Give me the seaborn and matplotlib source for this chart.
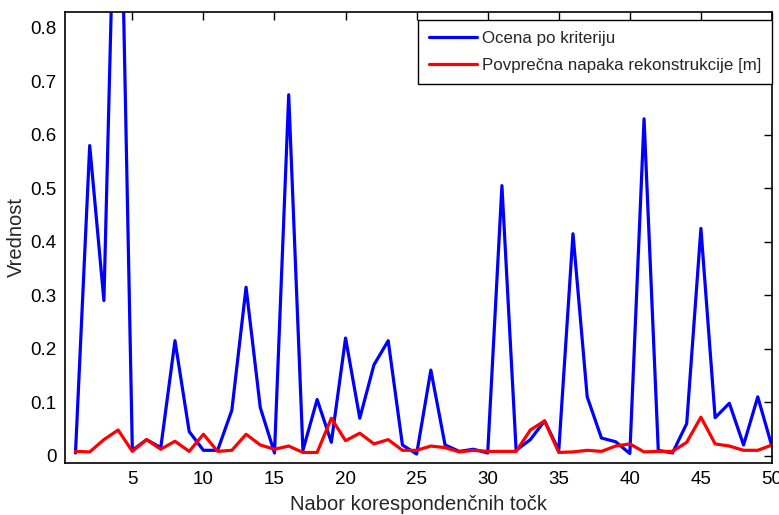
import numpy as np
import pandas as pd
import matplotlib
matplotlib.use("Agg")
import matplotlib.pyplot as plt
import seaborn as sns

x_vals = list(range(1, 51))
ocena = [0.005, 0.58, 0.29, 1.35, 0.01, 0.03, 0.015, 0.215, 0.045, 0.01,
         0.01, 0.085, 0.315, 0.09, 0.005, 0.675, 0.01, 0.105, 0.025, 0.22,
         0.07, 0.17, 0.215, 0.02, 0.003, 0.16, 0.02, 0.008, 0.012, 0.005,
         0.505, 0.01, 0.03, 0.065, 0.01, 0.415, 0.11, 0.033, 0.026, 0.004,
         0.63, 0.01, 0.005, 0.06, 0.425, 0.071, 0.098, 0.02, 0.11, 0.017]
napaka = [0.008, 0.007, 0.03, 0.048, 0.008, 0.03, 0.012, 0.027, 0.008, 0.04,
          0.008, 0.01, 0.04, 0.02, 0.012, 0.018, 0.006, 0.006, 0.07, 0.028,
          0.042, 0.022, 0.03, 0.01, 0.01, 0.018, 0.015, 0.007, 0.01, 0.008,
          0.008, 0.008, 0.048, 0.065, 0.006, 0.007, 0.01, 0.008, 0.018, 0.022,
          0.007, 0.008, 0.008, 0.025, 0.072, 0.022, 0.018, 0.01, 0.01, 0.02]
labels = ["Ocena po kriteriju", "Povprečna napaka rekonstrukcije [m]"]
x_ticks = [5, 10, 15, 20, 25, 30, 35, 40, 45, 50]
y_ticks = [0, 0.1, 0.2, 0.3, 0.4, 0.5, 0.6, 0.7, 0.8]

sns.set_style("white")
plt.rcParams['font.family'] = ['Liberation Sans', 'DejaVu Sans']

df = pd.DataFrame({
    "x": x_vals * 2,
    "y": ocena + napaka,
    "serija": [labels[0]] * len(x_vals) + [labels[1]] * len(x_vals),
})

fig = plt.figure(figsize=(7.79, 5.15), dpi=100)
ax = fig.add_axes([0.0834, 0.101, 0.9076, 0.876])
sns.lineplot(data=df, x="x", y="y", hue="serija", palette=["#0000ff", "#ff0000"],
             linewidth=2.3, ax=ax, legend=True, estimator=None, sort=False)

ax.set_xlim(0.26, 50)
ax.set_ylim(-0.0137, 0.83)
ax.set_xticks(x_ticks)
ax.set_yticks(y_ticks)
ax.set_yticklabels([("0" if v == 0 else f"{v:.1f}") for v in y_ticks])
ax.tick_params(direction="in", top=True, right=True, length=6, width=1,
               labelsize=13.5, colors="black", pad=6)
for s in ax.spines.values():
    s.set_visible(True)
    s.set_color("black")
    s.set_linewidth(1.2)
ax.set_xlabel("Nabor korespondenčnih točk", fontsize=14.5, labelpad=5)
ax.set_ylabel("Vrednost", fontsize=14.5, labelpad=3)

leg = ax.legend(loc="upper right", bbox_to_anchor=(1.0, 1.0 - 8 / 451),
                fontsize=12.2, frameon=True, fancybox=False,
                borderaxespad=0.0, handlelength=2.8, handletextpad=0.3,
                borderpad=0.65, labelspacing=0.72)
leg.get_frame().set_edgecolor("black")
leg.get_frame().set_linewidth(1.0)
leg.get_frame().set_alpha(1.0)
for line in leg.get_lines():
    line.set_linewidth(2.3)

fig.savefig("out.png", dpi=100)
